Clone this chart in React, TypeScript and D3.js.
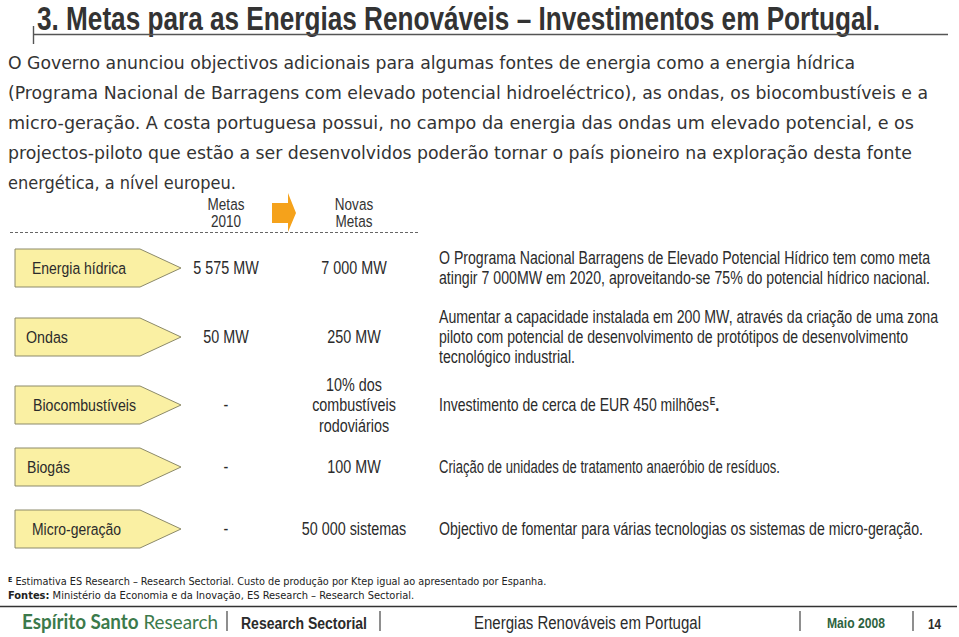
import React from "react";
import * as d3 from "d3";

const W = 959;
const H = 637;

const title = "3. Metas para as Energias Renováveis – Investimentos em Portugal.";

const introLines = [
  "O Governo anunciou objectivos adicionais para algumas fontes de energia como a energia hídrica",
  "(Programa Nacional de Barragens com elevado potencial hidroeléctrico), as ondas, os biocombustíveis e a",
  "micro-geração. A costa portuguesa possui, no campo da energia das ondas um elevado potencial, e os",
  "projectos-piloto que estão a ser desenvolvidos poderão tornar o país pioneiro na exploração desta fonte",
  "energética, a nível europeu.",
];
const introWidths = [847, 920, 906, 904, 0];

const headerLeft = ["Metas", "2010"];
const headerRight = ["Novas", "Metas"];

const categories = ["Energia hídrica", "Ondas", "Biocombustíveis", "Biogás", "Micro-geração"];
const labelWidths = [94, 42, 103, 43, 89];
const metas2010 = [["5 575 MW"], ["50 MW"], ["-"], ["-"], ["-"]];
const novasMetas = [["7 000 MW"], ["250 MW"], ["10% dos", "combustíveis", "rodoviários"], ["100 MW"], ["50 000 sistemas"]];
const descriptions = [
  [
    "O Programa Nacional Barragens de Elevado Potencial Hídrico tem como meta",
    "atingir 7 000MW em 2020, aproveitando-se 75% do potencial hídrico nacional.",
  ],
  [
    "Aumentar a capacidade instalada em 200 MW, através da criação de uma zona",
    "piloto com potencial de desenvolvimento de protótipos de desenvolvimento",
    "tecnológico industrial.",
  ],
  ["Investimento de cerca de EUR 450 milhões"],
  ["Criação de unidades de tratamento anaeróbio de resíduos."],
  ["Objectivo de fomentar para várias tecnologias os sistemas de micro-geração."],
];
const descWidths = [[491, 491], [499, 469, 136], [270], [341], [484]];

const footnote1 = "Estimativa ES Research – Research Sectorial. Custo de produção por Ktep igual ao apresentado por Espanha.";
const footnote2Bold = "Fontes:";
const footnote2 = " Ministério da Economia e da Inovação, ES Research – Research Sectorial.";

const footerItems = ["Research Sectorial", "Energias Renováveis em Portugal", "Maio 2008", "14"];

const narrow = "'Liberation Sans', Arial, sans-serif";
const tahoma = "'DejaVu Sans Condensed', 'DejaVu Sans', Verdana, sans-serif";
const textColor = "#2b2b2b";
const SX = 0.82;

function NText(props: {
  x: number;
  y: number;
  anchor?: "start" | "middle" | "end";
  size: number;
  weight?: string;
  fill?: string;
  width?: number;
  sx?: number;
  children: React.ReactNode;
}) {
  const sx = props.sx || SX;
  const extra = props.width ? { textLength: props.width / sx, lengthAdjust: "spacingAndGlyphs" } : {};
  return (
    <text
      transform={`translate(${props.x},${props.y}) scale(${sx},1)`}
      textAnchor={props.anchor || "start"}
      fontFamily={narrow}
      fontSize={props.size}
      fontWeight={props.weight || "normal"}
      fill={props.fill || textColor}
      {...extra}
    >
      {props.children}
    </text>
  );
}

export default function App() {
  const rowY = d3
    .scaleOrdinal<string, number>()
    .domain(categories)
    .range([268, 337, 405, 467, 529]);
  const colX = d3.scaleOrdinal<string, number>().domain(["m2010", "novas"]).range([226, 354]);
  const introY = d3.scaleLinear().domain([0, 1]).range([69, 99]);
  const lineStep = 20.3;

  const labelPath = (cy: number) => {
    const x0 = 15, x1 = 140, xt = 181, h = 38;
    const p = d3.path();
    p.moveTo(x0, cy - h / 2);
    p.lineTo(x1, cy - h / 2);
    p.lineTo(xt, cy);
    p.lineTo(x1, cy + h / 2);
    p.lineTo(x0, cy + h / 2);
    p.closePath();
    return p.toString();
  };

  const arrow = (() => {
    const p = d3.path();
    p.moveTo(272, 203);
    p.lineTo(288, 203);
    p.lineTo(288, 193);
    p.lineTo(296, 213);
    p.lineTo(288, 232);
    p.lineTo(288, 223);
    p.lineTo(272, 223);
    p.closePath();
    return p.toString();
  })();

  return (
    <svg width={W} height={H} style={{ position: "absolute", left: 0, top: 0, background: "#fff" }}>
      <rect x={0} y={0} width={W} height={H} fill="#fff" />
      {/* Title */}
      <NText x={37} y={29.5} size={32.5} weight="bold" fill="#333" width={843} sx={0.8}>
        {title}
      </NText>
      <line x1={33} x2={948} y1={34.5} y2={34.5} stroke="#555" strokeWidth={1.6} />
      <line x1={33.5} x2={33.5} y1={26} y2={44} stroke="#555" strokeWidth={1.4} />

      {/* Intro paragraph */}
      {introLines.map((l, i) => (
        <text
          key={i}
          x={8}
          y={introY(i)}
          fontFamily={tahoma}
          fontSize={18}
          fill="#333"
          {...(introWidths[i] ? { textLength: introWidths[i], lengthAdjust: "spacingAndGlyphs" } : {})}
        >
          {l}
        </text>
      ))}

      {/* Headers */}
      {headerLeft.map((t, i) => (
        <NText key={"hl" + i} x={colX("m2010")} y={210 + i * 17} anchor="middle" size={16.5} fill="#333">
          {t}
        </NText>
      ))}
      {headerRight.map((t, i) => (
        <NText key={"hr" + i} x={colX("novas")} y={210 + i * 17} anchor="middle" size={16.5} fill="#333">
          {t}
        </NText>
      ))}
      <path d={arrow} fill="#F5A21B" />
      <line x1={10} x2={420} y1={232.5} y2={232.5} stroke="#666" strokeWidth={1} strokeDasharray="3,2" />

      {/* Rows */}
      {categories.map((c, i) => {
        const cy = rowY(c);
        const nv = novasMetas[i];
        const desc = descriptions[i];
        const descTop = cy - ((desc.length - 1) * lineStep) / 2;
        return (
          <g key={c}>
            <path d={labelPath(cy)} fill="#FAF0A3" stroke="#8C8A6A" strokeWidth={1} />
            <NText x={[32, 26, 33, 27, 32][i]} y={cy + 6} size={17} width={labelWidths[i]}>
              {c}
            </NText>
            {metas2010[i].map((t, j) => (
              <NText key={"a" + j} x={colX("m2010")} y={cy + 6} anchor="middle" size={17.5}>
                {t}
              </NText>
            ))}
            {nv.map((t, j) => (
              <NText key={"b" + j} x={colX("novas")} y={cy + 6 + (j - (nv.length - 1) / 2) * 20.5} anchor="middle" size={17.5}>
                {t}
              </NText>
            ))}
            {i !== 2 &&
              desc.map((t, j) => (
                <NText key={"d" + j} x={439} y={descTop + 6 + j * lineStep} size={17.5} width={descWidths[i][j]}>
                  {t}
                </NText>
              ))}
            {i === 2 && (
              <text transform={`translate(439,${descTop + 6}) scale(${SX},1)`} fontFamily={narrow} fontSize={17.5} fill={textColor}>
                <tspan textLength={descWidths[2][0] / SX} lengthAdjust="spacingAndGlyphs">{desc[0]}</tspan>
                <tspan fontSize={10} fontWeight="bold" dy={-6} dx={1}>E</tspan>
                <tspan dy={6} fontWeight="bold">.</tspan>
              </text>
            )}
          </g>
        );
      })}

      {/* Footnotes */}
      <text x={8} y={585} fontFamily={tahoma} fontSize={11} fill="#222">
        <tspan fontSize={7} fontWeight="bold" dy={-3}>E</tspan>
        <tspan dy={3} textLength={534} lengthAdjust="spacingAndGlyphs">{" " + footnote1}</tspan>
      </text>
      <text x={8} y={599} fontFamily={tahoma} fontSize={11} fill="#222">
        <tspan fontWeight="bold">{footnote2Bold}</tspan>
        <tspan>{footnote2}</tspan>
      </text>
      <line x1={0} x2={957} y1={606.5} y2={606.5} stroke="#333" strokeWidth={1.5} />

      {/* Footer */}
      <text x={22} y={629} fontFamily="Lato, 'Open Sans', sans-serif" fontSize={20} fill="#3C7A4B" textLength={196} lengthAdjust="spacingAndGlyphs">
        <tspan fontWeight="bold">Espírito Santo</tspan>
        <tspan> Research</tspan>
      </text>
      <line x1={227} x2={227} y1={611} y2={631} stroke="#444" strokeWidth={1.2} />
      <NText x={241} y={629} size={17} weight="bold" width={126}>
        {footerItems[0]}
      </NText>
      <line x1={380} x2={380} y1={611} y2={631} stroke="#444" strokeWidth={1.2} />
      <NText x={474} y={629} size={17.5} width={227}>
        {footerItems[1]}
      </NText>
      <line x1={800} x2={800} y1={611} y2={631} stroke="#444" strokeWidth={1.2} />
      <NText x={827} y={628} size={15} weight="bold" fill="#2E6340" width={58}>
        {footerItems[2]}
      </NText>
      <line x1={913} x2={913} y1={611} y2={631} stroke="#444" strokeWidth={1.2} />
      <NText x={928} y={629} size={15} weight="bold" width={13}>
        {footerItems[3]}
      </NText>
    </svg>
  );
}
